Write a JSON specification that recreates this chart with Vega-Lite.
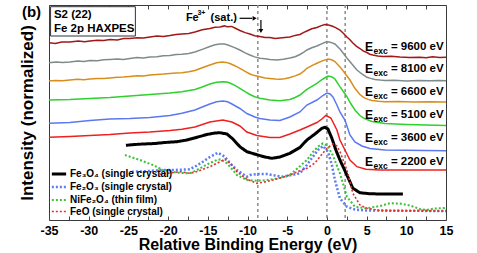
{
"$schema": "https://vega.github.io/schema/vega-lite/v6.json",
"width": 397, "height": 215,
"autosize": {"type": "none"},
"padding": {"left": 49, "right": 31, "top": 5, "bottom": 33},
"config": {"font": "Liberation Sans", "view": {"stroke": "#3a3a3a", "strokeWidth": 1}, "axis": {"grid": false, "domain": false}},
"datasets": {
"curves": [
{"s":"9600","x":-35,"y":177.3},{"s":"9600","x":-34.2,"y":176.6},{"s":"9600","x":-33.4,"y":177.9},{"s":"9600","x":-32.37,"y":178},{"s":"9600","x":-31.3,"y":178.9},{"s":"9600","x":-30.5,"y":178.2},{"s":"9600","x":-29.85,"y":179},{"s":"9600","x":-28.9,"y":179.8},{"s":"9600","x":-28.1,"y":179.4},{"s":"9600","x":-27.33,"y":180.5},{"s":"9600","x":-26.4,"y":180.1},{"s":"9600","x":-25.6,"y":181.4},{"s":"9600","x":-24.81,"y":181.5},{"s":"9600","x":-23.9,"y":182.3},{"s":"9600","x":-23.1,"y":181.9},{"s":"9600","x":-22.29,"y":183},{"s":"9600","x":-21.4,"y":183.9},{"s":"9600","x":-20.6,"y":183.6},{"s":"9600","x":-19.77,"y":184.5},{"s":"9600","x":-19.0,"y":185.6},{"s":"9600","x":-18.26,"y":186},{"s":"9600","x":-17.4,"y":186.6},{"s":"9600","x":-16.62,"y":188},{"s":"9600","x":-15.7,"y":190.2},{"s":"9600","x":-14.74,"y":191.5},{"s":"9600","x":-14.1,"y":192.8},{"s":"9600","x":-13.48,"y":193},{"s":"9600","x":-12.9,"y":194.1},{"s":"9600","x":-12.59,"y":193.3},{"s":"9600","x":-12.0,"y":193.6},{"s":"9600","x":-11.59,"y":192},{"s":"9600","x":-10.96,"y":189.5},{"s":"9600","x":-10.3,"y":187.4},{"s":"9600","x":-9.7,"y":186},{"s":"9600","x":-9.1,"y":184.3},{"s":"9600","x":-8.44,"y":183.5},{"s":"9600","x":-7.8,"y":182.4},{"s":"9600","x":-7.18,"y":182.5},{"s":"9600","x":-6.5,"y":181.4},{"s":"9600","x":-5.92,"y":182},{"s":"9600","x":-5.3,"y":182.6},{"s":"9600","x":-4.66,"y":183},{"s":"9600","x":-4.0,"y":184.6},{"s":"9600","x":-3.4,"y":185.5},{"s":"9600","x":-2.9,"y":187.6},{"s":"9600","x":-2.52,"y":189},{"s":"9600","x":-1.9,"y":191.2},{"s":"9600","x":-1.26,"y":192.5},{"s":"9600","x":-0.7,"y":194.4},{"s":"9600","x":-0.25,"y":195.5},{"s":"9600","x":0.2,"y":195},{"s":"9600","x":0.63,"y":194},{"s":"9600","x":1.1,"y":192.4},{"s":"9600","x":1.64,"y":190},{"s":"9600","x":2.1,"y":186.5},{"s":"9600","x":2.52,"y":183},{"s":"9600","x":2.9,"y":180.2},{"s":"9600","x":3.27,"y":177},{"s":"9600","x":3.7,"y":173.9},{"s":"9600","x":4.16,"y":171.5},{"s":"9600","x":4.6,"y":168.8},{"s":"9600","x":5.04,"y":167.5},{"s":"9600","x":5.4,"y":165.8},{"s":"9600","x":5.79,"y":165},{"s":"9600","x":6.4,"y":164.1},{"s":"9600","x":7.05,"y":163.5},{"s":"9600","x":8.1,"y":163.8},{"s":"9600","x":9.19,"y":163},{"s":"9600","x":10.4,"y":162.4},{"s":"9600","x":11.71,"y":162.8},{"s":"9600","x":12.5,"y":162.2},{"s":"9600","x":13.3,"y":163.3},{"s":"9600","x":14.2,"y":162.5},{"s":"9600","x":15,"y":162.7},
{"s":"8100","x":-35,"y":157.3},{"s":"8100","x":-34.1,"y":158.1},{"s":"8100","x":-33.3,"y":157.4},{"s":"8100","x":-32.37,"y":158},{"s":"8100","x":-31.4,"y":158.9},{"s":"8100","x":-30.6,"y":158.6},{"s":"8100","x":-29.85,"y":159.5},{"s":"8100","x":-28.9,"y":159.2},{"s":"8100","x":-28.1,"y":160.3},{"s":"8100","x":-27.33,"y":160.5},{"s":"8100","x":-26.4,"y":160.9},{"s":"8100","x":-25.6,"y":160.6},{"s":"8100","x":-24.81,"y":161.5},{"s":"8100","x":-23.9,"y":162.4},{"s":"8100","x":-23.1,"y":162.1},{"s":"8100","x":-22.29,"y":163},{"s":"8100","x":-21.4,"y":163.2},{"s":"8100","x":-20.6,"y":164.3},{"s":"8100","x":-19.77,"y":164.5},{"s":"8100","x":-19.0,"y":165.4},{"s":"8100","x":-18.26,"y":165.7},{"s":"8100","x":-17.4,"y":166.4},{"s":"8100","x":-16.62,"y":168},{"s":"8100","x":-15.7,"y":170.6},{"s":"8100","x":-14.74,"y":173.5},{"s":"8100","x":-14.1,"y":175.2},{"s":"8100","x":-13.48,"y":176},{"s":"8100","x":-12.9,"y":175.9},{"s":"8100","x":-12.47,"y":175},{"s":"8100","x":-11.7,"y":172.6},{"s":"8100","x":-10.96,"y":170},{"s":"8100","x":-10.3,"y":167.1},{"s":"8100","x":-9.7,"y":165},{"s":"8100","x":-9.1,"y":163.1},{"s":"8100","x":-8.44,"y":161.7},{"s":"8100","x":-7.8,"y":161.3},{"s":"8100","x":-7.18,"y":160.5},{"s":"8100","x":-6.7,"y":160.3},{"s":"8100","x":-6.3,"y":160},{"s":"8100","x":-5.5,"y":160.8},{"s":"8100","x":-4.66,"y":162},{"s":"8100","x":-4.0,"y":163.3},{"s":"8100","x":-3.4,"y":165.5},{"s":"8100","x":-2.9,"y":167.9},{"s":"8100","x":-2.52,"y":170},{"s":"8100","x":-1.9,"y":172.3},{"s":"8100","x":-1.26,"y":174},{"s":"8100","x":-0.6,"y":176.4},{"s":"8100","x":0,"y":178.5},{"s":"8100","x":0.5,"y":177.6},{"s":"8100","x":1.01,"y":176},{"s":"8100","x":1.7,"y":170.5},{"s":"8100","x":2.52,"y":162},{"s":"8100","x":3.15,"y":156},{"s":"8100","x":3.78,"y":150},{"s":"8100","x":4.41,"y":146},{"s":"8100","x":5.04,"y":142.7},{"s":"8100","x":5.5,"y":141.6},{"s":"8100","x":6.05,"y":140.5},{"s":"8100","x":6.7,"y":139.9},{"s":"8100","x":7.3,"y":139.5},{"s":"8100","x":8.5,"y":139.8},{"s":"8100","x":10,"y":139.1},{"s":"8100","x":11.5,"y":139.6},{"s":"8100","x":13,"y":139.2},{"s":"8100","x":14.2,"y":139.5},{"s":"8100","x":15,"y":139.3},
{"s":"6600","x":-35,"y":139},{"s":"6600","x":-34.2,"y":139.6},{"s":"6600","x":-33.3,"y":139.2},{"s":"6600","x":-32.37,"y":140},{"s":"6600","x":-31.4,"y":140.7},{"s":"6600","x":-30.6,"y":140.3},{"s":"6600","x":-29.85,"y":141},{"s":"6600","x":-28.9,"y":141.6},{"s":"6600","x":-28.1,"y":141.4},{"s":"6600","x":-27.33,"y":142},{"s":"6600","x":-26.4,"y":142.8},{"s":"6600","x":-25.6,"y":142.9},{"s":"6600","x":-24.81,"y":143.5},{"s":"6600","x":-23.9,"y":144.3},{"s":"6600","x":-23.1,"y":144.1},{"s":"6600","x":-22.29,"y":145},{"s":"6600","x":-21.4,"y":145.6},{"s":"6600","x":-20.6,"y":145.9},{"s":"6600","x":-19.77,"y":146.5},{"s":"6600","x":-19.0,"y":147.1},{"s":"6600","x":-18.26,"y":147.3},{"s":"6600","x":-17.4,"y":148.2},{"s":"6600","x":-16.62,"y":149.5},{"s":"6600","x":-15.7,"y":152.3},{"s":"6600","x":-14.74,"y":155},{"s":"6600","x":-13.9,"y":157.2},{"s":"6600","x":-13.22,"y":158},{"s":"6600","x":-12.7,"y":157.6},{"s":"6600","x":-12.22,"y":156.5},{"s":"6600","x":-11.6,"y":154.3},{"s":"6600","x":-10.96,"y":151.7},{"s":"6600","x":-10.3,"y":148.6},{"s":"6600","x":-9.7,"y":146},{"s":"6600","x":-9.1,"y":144.4},{"s":"6600","x":-8.44,"y":143.3},{"s":"6600","x":-7.8,"y":142.1},{"s":"6600","x":-7.18,"y":141.5},{"s":"6600","x":-6.5,"y":140.9},{"s":"6600","x":-5.92,"y":140.7},{"s":"6600","x":-5.3,"y":141.3},{"s":"6600","x":-4.66,"y":142.5},{"s":"6600","x":-4.0,"y":144.1},{"s":"6600","x":-3.4,"y":146},{"s":"6600","x":-2.9,"y":148.9},{"s":"6600","x":-2.52,"y":151.7},{"s":"6600","x":-1.9,"y":154.4},{"s":"6600","x":-1.26,"y":156.7},{"s":"6600","x":-0.5,"y":159.4},{"s":"6600","x":0.13,"y":161},{"s":"6600","x":0.6,"y":160.2},{"s":"6600","x":1.01,"y":158.5},{"s":"6600","x":1.7,"y":152.6},{"s":"6600","x":2.27,"y":146.7},{"s":"6600","x":2.9,"y":140},{"s":"6600","x":3.53,"y":131.7},{"s":"6600","x":4.16,"y":125.5},{"s":"6600","x":4.66,"y":122.3},{"s":"6600","x":5.2,"y":120.6},{"s":"6600","x":5.67,"y":119.5},{"s":"6600","x":6.5,"y":118.8},{"s":"6600","x":7.3,"y":118.3},{"s":"6600","x":9,"y":118.4},{"s":"6600","x":11,"y":117.9},{"s":"6600","x":13,"y":118.2},{"s":"6600","x":15,"y":118},
{"s":"5100","x":-35,"y":120},{"s":"5100","x":-32.37,"y":120.5},{"s":"5100","x":-29.85,"y":121.5},{"s":"5100","x":-27.33,"y":122.5},{"s":"5100","x":-24.81,"y":124},{"s":"5100","x":-22.29,"y":125.5},{"s":"5100","x":-19.77,"y":127},{"s":"5100","x":-18.26,"y":128.3},{"s":"5100","x":-16.62,"y":130.5},{"s":"5100","x":-15.7,"y":133},{"s":"5100","x":-14.74,"y":136},{"s":"5100","x":-13.9,"y":137.7},{"s":"5100","x":-13.1,"y":138.3},{"s":"5100","x":-12.6,"y":138},{"s":"5100","x":-12.22,"y":137},{"s":"5100","x":-11.6,"y":134.6},{"s":"5100","x":-10.96,"y":131.7},{"s":"5100","x":-10.3,"y":128.3},{"s":"5100","x":-9.7,"y":125.5},{"s":"5100","x":-9.1,"y":123.2},{"s":"5100","x":-8.44,"y":121.7},{"s":"5100","x":-7.18,"y":120},{"s":"5100","x":-5.92,"y":119.3},{"s":"5100","x":-4.66,"y":120.5},{"s":"5100","x":-4.0,"y":122.5},{"s":"5100","x":-3.4,"y":125},{"s":"5100","x":-2.52,"y":130.7},{"s":"5100","x":-1.26,"y":136.7},{"s":"5100","x":-0.5,"y":141},{"s":"5100","x":0.13,"y":144},{"s":"5100","x":0.6,"y":143.2},{"s":"5100","x":1.01,"y":141},{"s":"5100","x":1.64,"y":133.3},{"s":"5100","x":2.52,"y":123.3},{"s":"5100","x":3.0,"y":116.5},{"s":"5100","x":3.53,"y":110},{"s":"5100","x":4.16,"y":104.5},{"s":"5100","x":4.66,"y":101.7},{"s":"5100","x":5.67,"y":98.5},{"s":"5100","x":7.3,"y":96.5},{"s":"5100","x":10,"y":95.5},{"s":"5100","x":15,"y":94.5},
{"s":"3600","x":-35,"y":96.7},{"s":"3600","x":-32.37,"y":97.5},{"s":"3600","x":-29.85,"y":99.5},{"s":"3600","x":-27.33,"y":101},{"s":"3600","x":-24.81,"y":101.5},{"s":"3600","x":-22.29,"y":102.5},{"s":"3600","x":-19.77,"y":104.5},{"s":"3600","x":-18.26,"y":106.7},{"s":"3600","x":-16.62,"y":110},{"s":"3600","x":-15.7,"y":113},{"s":"3600","x":-14.74,"y":116},{"s":"3600","x":-13.9,"y":118.3},{"s":"3600","x":-13.1,"y":119},{"s":"3600","x":-12.5,"y":118.2},{"s":"3600","x":-11.96,"y":116},{"s":"3600","x":-10.96,"y":111.5},{"s":"3600","x":-10.08,"y":106.5},{"s":"3600","x":-9.07,"y":103},{"s":"3600","x":-8.44,"y":101.5},{"s":"3600","x":-7.18,"y":100},{"s":"3600","x":-5.92,"y":99.5},{"s":"3600","x":-4.66,"y":103},{"s":"3600","x":-3.4,"y":108},{"s":"3600","x":-2.52,"y":115},{"s":"3600","x":-1.26,"y":120},{"s":"3600","x":-0.5,"y":124.5},{"s":"3600","x":0,"y":127},{"s":"3600","x":0.4,"y":126},{"s":"3600","x":0.76,"y":123},{"s":"3600","x":1.26,"y":115},{"s":"3600","x":1.64,"y":108},{"s":"3600","x":2.27,"y":100},{"s":"3600","x":2.9,"y":85},{"s":"3600","x":3.53,"y":78},{"s":"3600","x":4.41,"y":74},{"s":"3600","x":5.42,"y":71.5},{"s":"3600","x":7.3,"y":70},{"s":"3600","x":15,"y":69.3},
{"s":"2200","x":-35,"y":82.7},{"s":"2200","x":-32.37,"y":83.5},{"s":"2200","x":-29.85,"y":84.5},{"s":"2200","x":-27.33,"y":85.5},{"s":"2200","x":-24.81,"y":87},{"s":"2200","x":-22.29,"y":88},{"s":"2200","x":-19.77,"y":89.5},{"s":"2200","x":-18.26,"y":90.7},{"s":"2200","x":-16.62,"y":93},{"s":"2200","x":-14.74,"y":98},{"s":"2200","x":-13.1,"y":100},{"s":"2200","x":-11.96,"y":98},{"s":"2200","x":-10.96,"y":94},{"s":"2200","x":-10.08,"y":88},{"s":"2200","x":-8.82,"y":84.5},{"s":"2200","x":-7.18,"y":82.5},{"s":"2200","x":-5.92,"y":82.5},{"s":"2200","x":-4.66,"y":86},{"s":"2200","x":-3.4,"y":90},{"s":"2200","x":-2.52,"y":93},{"s":"2200","x":-1.26,"y":97.5},{"s":"2200","x":-0.63,"y":101},{"s":"2200","x":-0.13,"y":104.5},{"s":"2200","x":0.5,"y":102},{"s":"2200","x":1.26,"y":90},{"s":"2200","x":1.64,"y":80},{"s":"2200","x":2.27,"y":70},{"s":"2200","x":2.9,"y":60},{"s":"2200","x":3.78,"y":53.3},{"s":"2200","x":4.91,"y":50.7},{"s":"2200","x":6.68,"y":50},{"s":"2200","x":15,"y":50}
],
"refs": [
{"s":"Fe₃O₄ (single crystal)","x":-25.31,"y":74.7},{"s":"Fe₃O₄ (single crystal)","x":-24.18,"y":75.5},{"s":"Fe₃O₄ (single crystal)","x":-23.17,"y":76},{"s":"Fe₃O₄ (single crystal)","x":-21.66,"y":76.5},{"s":"Fe₃O₄ (single crystal)","x":-20.4,"y":77.5},{"s":"Fe₃O₄ (single crystal)","x":-18.89,"y":78.3},{"s":"Fe₃O₄ (single crystal)","x":-17.63,"y":80},{"s":"Fe₃O₄ (single crystal)","x":-16.37,"y":82.7},{"s":"Fe₃O₄ (single crystal)","x":-15.11,"y":85.5},{"s":"Fe₃O₄ (single crystal)","x":-14.11,"y":87},{"s":"Fe₃O₄ (single crystal)","x":-13.48,"y":87.3},{"s":"Fe₃O₄ (single crystal)","x":-12.59,"y":86},{"s":"Fe₃O₄ (single crystal)","x":-11.84,"y":81},{"s":"Fe₃O₄ (single crystal)","x":-10.96,"y":73.3},{"s":"Fe₃O₄ (single crystal)","x":-10.08,"y":68.3},{"s":"Fe₃O₄ (single crystal)","x":-8.69,"y":65},{"s":"Fe₃O₄ (single crystal)","x":-7.81,"y":63},{"s":"Fe₃O₄ (single crystal)","x":-6.93,"y":61.7},{"s":"Fe₃O₄ (single crystal)","x":-5.92,"y":63},{"s":"Fe₃O₄ (single crystal)","x":-4.66,"y":66.7},{"s":"Fe₃O₄ (single crystal)","x":-3.4,"y":72.5},{"s":"Fe₃O₄ (single crystal)","x":-2.52,"y":80},{"s":"Fe₃O₄ (single crystal)","x":-1.51,"y":86},{"s":"Fe₃O₄ (single crystal)","x":-0.63,"y":91.7},{"s":"Fe₃O₄ (single crystal)","x":-0.25,"y":92.7},{"s":"Fe₃O₄ (single crystal)","x":0.13,"y":91},{"s":"Fe₃O₄ (single crystal)","x":0.63,"y":81.7},{"s":"Fe₃O₄ (single crystal)","x":1.13,"y":70},{"s":"Fe₃O₄ (single crystal)","x":1.64,"y":60},{"s":"Fe₃O₄ (single crystal)","x":2.52,"y":45},{"s":"Fe₃O₄ (single crystal)","x":3.27,"y":31.7},{"s":"Fe₃O₄ (single crystal)","x":4.16,"y":27.3},{"s":"Fe₃O₄ (single crystal)","x":5.42,"y":26.2},{"s":"Fe₃O₄ (single crystal)","x":7.3,"y":26},{"s":"Fe₃O₄ (single crystal)","x":9.57,"y":26},
{"s":"Fe₂O₃ (single crystal)","x":-24.56,"y":48.3},{"s":"Fe₂O₃ (single crystal)","x":-23.55,"y":48.5},{"s":"Fe₂O₃ (single crystal)","x":-22.29,"y":49},{"s":"Fe₂O₃ (single crystal)","x":-21.03,"y":50},{"s":"Fe₂O₃ (single crystal)","x":-19.14,"y":50},{"s":"Fe₂O₃ (single crystal)","x":-17.25,"y":50.7},{"s":"Fe₂O₃ (single crystal)","x":-16.37,"y":54.5},{"s":"Fe₂O₃ (single crystal)","x":-15.62,"y":58.3},{"s":"Fe₂O₃ (single crystal)","x":-14.74,"y":63},{"s":"Fe₂O₃ (single crystal)","x":-13.73,"y":67.3},{"s":"Fe₂O₃ (single crystal)","x":-12.85,"y":63.3},{"s":"Fe₂O₃ (single crystal)","x":-12.22,"y":57},{"s":"Fe₂O₃ (single crystal)","x":-11.34,"y":50},{"s":"Fe₂O₃ (single crystal)","x":-10.08,"y":43.3},{"s":"Fe₂O₃ (single crystal)","x":-9.7,"y":45},{"s":"Fe₂O₃ (single crystal)","x":-8.69,"y":46},{"s":"Fe₂O₃ (single crystal)","x":-7.56,"y":46},{"s":"Fe₂O₃ (single crystal)","x":-6.55,"y":44.5},{"s":"Fe₂O₃ (single crystal)","x":-5.54,"y":43.3},{"s":"Fe₂O₃ (single crystal)","x":-4.41,"y":45},{"s":"Fe₂O₃ (single crystal)","x":-3.4,"y":46.7},{"s":"Fe₂O₃ (single crystal)","x":-2.52,"y":55},{"s":"Fe₂O₃ (single crystal)","x":-1.76,"y":63.3},{"s":"Fe₂O₃ (single crystal)","x":-1.13,"y":70},{"s":"Fe₂O₃ (single crystal)","x":-0.5,"y":74},{"s":"Fe₂O₃ (single crystal)","x":0.13,"y":68.3},{"s":"Fe₂O₃ (single crystal)","x":0.63,"y":55},{"s":"Fe₂O₃ (single crystal)","x":1.01,"y":40},{"s":"Fe₂O₃ (single crystal)","x":1.64,"y":21.7},{"s":"Fe₂O₃ (single crystal)","x":2.52,"y":13.3},{"s":"Fe₂O₃ (single crystal)","x":3.53,"y":10.5},{"s":"Fe₂O₃ (single crystal)","x":4.79,"y":9.5},{"s":"Fe₂O₃ (single crystal)","x":15,"y":9},
{"s":"NiFe₂O₄ (thin film)","x":-25.44,"y":65},{"s":"NiFe₂O₄ (thin film)","x":-23.55,"y":60},{"s":"NiFe₂O₄ (thin film)","x":-21.91,"y":55},{"s":"NiFe₂O₄ (thin film)","x":-20.65,"y":50},{"s":"NiFe₂O₄ (thin film)","x":-18.89,"y":47.3},{"s":"NiFe₂O₄ (thin film)","x":-17.25,"y":46.7},{"s":"NiFe₂O₄ (thin film)","x":-16.37,"y":50},{"s":"NiFe₂O₄ (thin film)","x":-15.62,"y":53.3},{"s":"NiFe₂O₄ (thin film)","x":-14.74,"y":57},{"s":"NiFe₂O₄ (thin film)","x":-13.85,"y":60},{"s":"NiFe₂O₄ (thin film)","x":-13.35,"y":60.7},{"s":"NiFe₂O₄ (thin film)","x":-12.59,"y":56.7},{"s":"NiFe₂O₄ (thin film)","x":-11.96,"y":51},{"s":"NiFe₂O₄ (thin film)","x":-11.34,"y":45},{"s":"NiFe₂O₄ (thin film)","x":-10.08,"y":40},{"s":"NiFe₂O₄ (thin film)","x":-8.82,"y":39.3},{"s":"NiFe₂O₄ (thin film)","x":-7.81,"y":39.7},{"s":"NiFe₂O₄ (thin film)","x":-6.8,"y":40.7},{"s":"NiFe₂O₄ (thin film)","x":-5.67,"y":42.5},{"s":"NiFe₂O₄ (thin film)","x":-4.66,"y":45},{"s":"NiFe₂O₄ (thin film)","x":-3.65,"y":52},{"s":"NiFe₂O₄ (thin film)","x":-2.52,"y":60},{"s":"NiFe₂O₄ (thin film)","x":-1.76,"y":68},{"s":"NiFe₂O₄ (thin film)","x":-1.13,"y":73.3},{"s":"NiFe₂O₄ (thin film)","x":-0.5,"y":76.7},{"s":"NiFe₂O₄ (thin film)","x":0,"y":74.5},{"s":"NiFe₂O₄ (thin film)","x":0.63,"y":66.7},{"s":"NiFe₂O₄ (thin film)","x":1.13,"y":57},{"s":"NiFe₂O₄ (thin film)","x":1.64,"y":46.7},{"s":"NiFe₂O₄ (thin film)","x":2.52,"y":23.3},{"s":"NiFe₂O₄ (thin film)","x":3.53,"y":13.3},{"s":"NiFe₂O₄ (thin film)","x":5.04,"y":11.7},{"s":"NiFe₂O₄ (thin film)","x":6.68,"y":14},{"s":"NiFe₂O₄ (thin film)","x":7.93,"y":16.7},{"s":"NiFe₂O₄ (thin film)","x":9.19,"y":16.5},{"s":"NiFe₂O₄ (thin film)","x":10.45,"y":14.5},{"s":"NiFe₂O₄ (thin film)","x":11.71,"y":11},{"s":"NiFe₂O₄ (thin film)","x":12.59,"y":10},{"s":"NiFe₂O₄ (thin film)","x":13.6,"y":11.5},{"s":"NiFe₂O₄ (thin film)","x":15,"y":12},
{"s":"FeO (single crystal)","x":-21.03,"y":45.7},{"s":"FeO (single crystal)","x":-19.77,"y":47},{"s":"FeO (single crystal)","x":-18.51,"y":48.3},{"s":"FeO (single crystal)","x":-17.25,"y":46.7},{"s":"FeO (single crystal)","x":-16.37,"y":48.5},{"s":"FeO (single crystal)","x":-15.62,"y":50.7},{"s":"FeO (single crystal)","x":-14.74,"y":53.3},{"s":"FeO (single crystal)","x":-13.85,"y":56.7},{"s":"FeO (single crystal)","x":-12.85,"y":60.7},{"s":"FeO (single crystal)","x":-12.09,"y":56},{"s":"FeO (single crystal)","x":-11.34,"y":48.3},{"s":"FeO (single crystal)","x":-10.08,"y":40.7},{"s":"FeO (single crystal)","x":-8.82,"y":36.7},{"s":"FeO (single crystal)","x":-7.81,"y":38},{"s":"FeO (single crystal)","x":-6.8,"y":40},{"s":"FeO (single crystal)","x":-5.67,"y":42.5},{"s":"FeO (single crystal)","x":-4.66,"y":45},{"s":"FeO (single crystal)","x":-3.65,"y":48.5},{"s":"FeO (single crystal)","x":-2.52,"y":51.7},{"s":"FeO (single crystal)","x":-1.51,"y":57},{"s":"FeO (single crystal)","x":-0.88,"y":63.3},{"s":"FeO (single crystal)","x":0,"y":71.7},{"s":"FeO (single crystal)","x":0.76,"y":76},{"s":"FeO (single crystal)","x":1.26,"y":74},{"s":"FeO (single crystal)","x":1.64,"y":68.3},{"s":"FeO (single crystal)","x":2.52,"y":50},{"s":"FeO (single crystal)","x":3.27,"y":26.7},{"s":"FeO (single crystal)","x":4.16,"y":15},{"s":"FeO (single crystal)","x":5.04,"y":11.7},{"s":"FeO (single crystal)","x":6.68,"y":9.5},{"s":"FeO (single crystal)","x":15,"y":9}
],
"elabels": [
{"e":"= 9600 eV","y":173.5},{"e":"= 8100 eV","y":151},{"e":"= 6600 eV","y":128.5},{"e":"= 5100 eV","y":105},{"e":"= 3600 eV","y":82.5},{"e":"= 2200 eV","y":58.5}
]
},
"resolve": {"scale": {"color": "independent", "strokeDash": "independent", "strokeWidth": "independent"}, "axis": {"x": "independent", "y": "independent"}},
"layer": [
{
"data": {"values": [{"x": -8.7}, {"x": 0}, {"x": 2.3}]},
"mark": {"type": "rule", "color": "#8c8c8c", "strokeWidth": 1.5, "strokeDash": [3, 3]},
"encoding": {
"x": {"field": "x", "type": "quantitative", "scale": {"domain": [-35, 15], "nice": false},
"axis": {"orient": "top", "values": [-35,-32.5,-30,-27.5,-25,-22.5,-20,-17.5,-15,-12.5,-10,-7.5,-5,-2.5,0,2.5,5,7.5,10,12.5,15], "labels": false, "title": null, "tickSize": -4, "tickColor": "#444", "domain": false, "grid": false}}
}
},
{
"data": {"name": "curves"},
"mark": {"type": "line", "strokeWidth": 1.5},
"encoding": {
"x": {"field": "x", "type": "quantitative", "scale": {"domain": [-35, 15], "nice": false},
"axis": {"orient": "bottom", "values": [-35,-32.5,-30,-27.5,-25,-22.5,-20,-17.5,-15,-12.5,-10,-7.5,-5,-2.5,0,2.5,5,7.5,10,12.5,15], "labelExpr": "datum.value % 5 === 0 ? '' + datum.value : ''", "labelFlush": false, "labelOverlap": false, "tickSize": -4, "tickColor": "#444", "labelPadding": 8, "labelFontSize": 12.5, "labelFontWeight": "bold", "labelColor": "#000", "title": "Relative Binding Energy (eV)", "titleFontSize": 16, "titleFontWeight": "bold", "titleColor": "#000", "titlePadding": 0}},
"y": {"field": "y", "type": "quantitative", "scale": {"domain": [0, 215], "nice": false, "zero": false},
"axis": {"orient": "left", "title": "Intensity (normalized)", "ticks": false, "labels": false, "domain": false, "grid": false, "titleFontSize": 17, "titleFontWeight": "bold", "titleColor": "#000", "titlePadding": 13}},
"color": {"field": "s", "type": "nominal", "scale": {"domain": ["9600","8100","6600","5100","3600","2200"], "range": ["#a01818","#7f8b8b","#d98e1c","#2ed12e","#5c78f0","#f02020"]}, "legend": null}
}
},
{
"data": {"name": "refs"},
"mark": {"type": "line"},
"encoding": {
"x": {"field": "x", "type": "quantitative", "axis": null},
"y": {"field": "y", "type": "quantitative", "axis": null},
"color": {"field": "s", "type": "nominal", "scale": {"domain": ["Fe₃O₄ (single crystal)","Fe₂O₃ (single crystal)","NiFe₂O₄ (thin film)","FeO (single crystal)"], "range": ["#000000","#5b7cf5","#3cc23c","#e03030"]},
"legend": {"title": null, "orient": "bottom-left", "offset": 3, "padding": 0, "symbolType": "M-1.3,0H1.3", "symbolSize": 121, "labelFontSize": 10, "labelFontWeight": "bold", "labelColor": "#000", "rowPadding": 0, "labelOffset": 4}},
"strokeDash": {"field": "s", "type": "nominal", "scale": {"domain": ["Fe₃O₄ (single crystal)","Fe₂O₃ (single crystal)","NiFe₂O₄ (thin film)","FeO (single crystal)"], "range": [[1,0],[2,2],[2,2],[2,2]]},
"legend": {"title": null, "orient": "bottom-left", "offset": 3, "padding": 0, "symbolType": "M-1.3,0H1.3", "symbolSize": 121, "labelFontSize": 10, "labelFontWeight": "bold", "labelColor": "#000", "rowPadding": 0, "labelOffset": 4}},
"strokeWidth": {"field": "s", "type": "nominal", "scale": {"domain": ["Fe₃O₄ (single crystal)","Fe₂O₃ (single crystal)","NiFe₂O₄ (thin film)","FeO (single crystal)"], "range": [3,1.6,1.6,1.6]},
"legend": {"title": null, "orient": "bottom-left", "offset": 3, "padding": 0, "symbolType": "M-1.3,0H1.3", "symbolSize": 121, "labelFontSize": 10, "labelFontWeight": "bold", "labelColor": "#000", "rowPadding": 0, "labelOffset": 4}}
}
},
{
"data": {"name": "elabels"},
"mark": {"type": "text", "text": "E", "align": "left", "baseline": "middle", "fontSize": 12, "fontWeight": "bold", "color": "#000"},
"encoding": {"x": {"datum": 4.79, "type": "quantitative", "axis": null}, "y": {"field": "y", "type": "quantitative", "axis": null}}
},
{
"data": {"name": "elabels"},
"mark": {"type": "text", "text": "exc", "align": "left", "baseline": "middle", "fontSize": 8.5, "fontWeight": "bold", "color": "#000", "dy": 4},
"encoding": {"x": {"datum": 5.86, "type": "quantitative", "axis": null}, "y": {"field": "y", "type": "quantitative", "axis": null}}
},
{
"data": {"name": "elabels"},
"mark": {"type": "text", "align": "left", "baseline": "middle", "fontSize": 11.5, "fontWeight": "bold", "color": "#000"},
"encoding": {"x": {"datum": 8.06, "type": "quantitative", "axis": null}, "y": {"field": "y", "type": "quantitative", "axis": null}, "text": {"field": "e"}}
},
{
"data": {"values": [{}]},
"mark": {"type": "rect", "fill": "#ffffff", "stroke": "#333", "strokeWidth": 1},
"encoding": {"x": {"datum": -34.8, "type": "quantitative", "axis": null}, "x2": {"datum": -24.12}, "y": {"datum": 213.3, "type": "quantitative", "axis": null}, "y2": {"datum": 184}}
},
{
"data": {"values": [{"t": "S2 (22)", "y": 205.5}, {"t": "Fe 2p HAXPES", "y": 191}]},
"mark": {"type": "text", "align": "left", "baseline": "middle", "fontSize": 11.5, "fontWeight": "bold", "color": "#000"},
"encoding": {"x": {"datum": -34.38, "type": "quantitative", "axis": null}, "y": {"field": "y", "type": "quantitative", "axis": null}, "text": {"field": "t"}}
},
{
"data": {"values": [{}]},
"mark": {"type": "text", "text": "(b)", "align": "left", "baseline": "middle", "fontSize": 15, "fontWeight": "bold", "color": "#000"},
"encoding": {"x": {"datum": -38.41, "type": "quantitative", "axis": null}, "y": {"datum": 208, "type": "quantitative", "axis": null}}
},
{
"data": {"values": [{}]},
"mark": {"type": "text", "text": "Fe", "align": "left", "baseline": "middle", "fontSize": 11, "fontWeight": "bold", "color": "#000"},
"encoding": {"x": {"datum": -17.76, "type": "quantitative", "axis": null}, "y": {"datum": 202, "type": "quantitative", "axis": null}}
},
{
"data": {"values": [{}]},
"mark": {"type": "text", "text": "3+", "align": "left", "baseline": "middle", "fontSize": 7, "fontWeight": "bold", "color": "#000", "dy": -5},
"encoding": {"x": {"datum": -16.3, "type": "quantitative", "axis": null}, "y": {"datum": 202, "type": "quantitative", "axis": null}}
},
{
"data": {"values": [{}]},
"mark": {"type": "text", "text": "(sat.)", "align": "left", "baseline": "middle", "fontSize": 11, "fontWeight": "bold", "color": "#000"},
"encoding": {"x": {"datum": -14.65, "type": "quantitative", "axis": null}, "y": {"datum": 202, "type": "quantitative", "axis": null}}
},
{
"data": {"values": [{}]},
"mark": {"type": "rule", "color": "#000", "strokeWidth": 1.2},
"encoding": {"x": {"datum": -11.0, "type": "quantitative", "axis": null}, "x2": {"datum": -9.4}, "y": {"datum": 201.7, "type": "quantitative", "axis": null}}
},
{
"data": {"values": [{}]},
"mark": {"type": "rule", "color": "#000", "strokeWidth": 1.2},
"encoding": {"x": {"datum": -8.31, "type": "quantitative", "axis": null}, "y": {"datum": 200, "type": "quantitative", "axis": null}, "y2": {"datum": 190}}
},
{
"data": {"values": [{}]},
"mark": {"type": "point", "shape": "triangle-right", "filled": true, "color": "#000", "size": 22, "opacity": 1},
"encoding": {"x": {"datum": -9.1, "type": "quantitative", "axis": null}, "y": {"datum": 201.7, "type": "quantitative", "axis": null}}
},
{
"data": {"values": [{}]},
"mark": {"type": "point", "shape": "triangle-down", "filled": true, "color": "#000", "size": 22, "opacity": 1},
"encoding": {"x": {"datum": -8.31, "type": "quantitative", "axis": null}, "y": {"datum": 189, "type": "quantitative", "axis": null}}
}
]
}
